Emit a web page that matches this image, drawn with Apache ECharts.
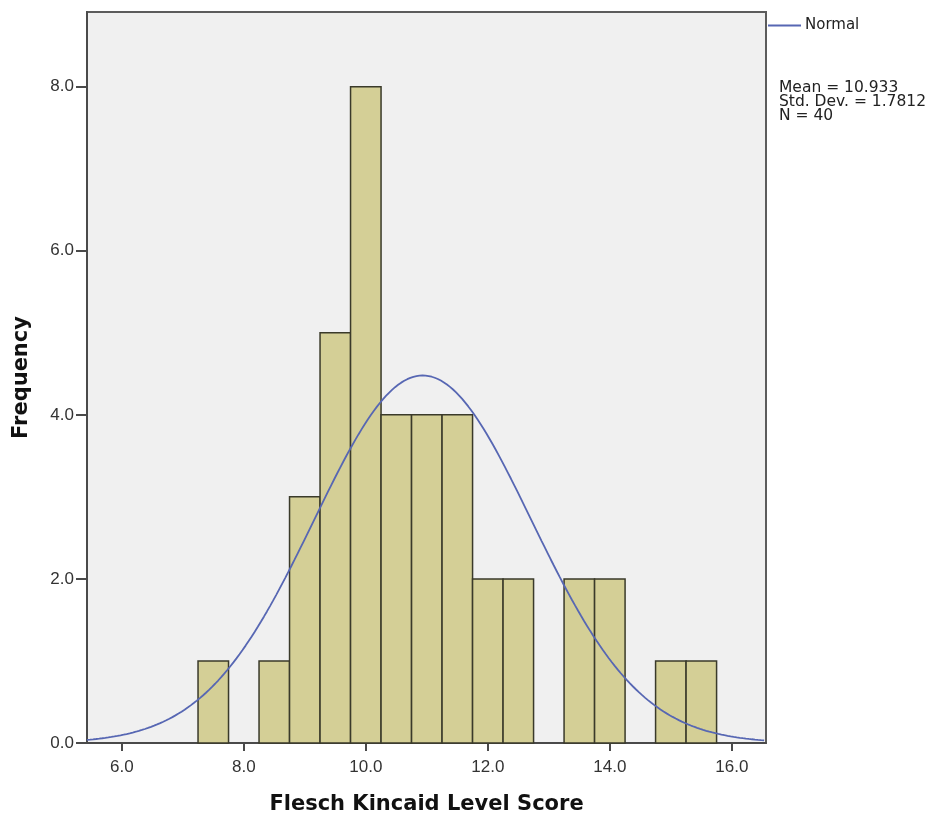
<!DOCTYPE html>
<html>
<head>
<meta charset="utf-8">
<script src="https://cdn.jsdelivr.net/npm/echarts@6/dist/echarts.min.js"></script>
<style>
  html, body { margin: 0; padding: 0; background: #ffffff; }
  #chart { width: 931px; height: 819px; }
</style>
</head>
<body>
<div id="chart"></div>
<script>
// Histogram bins: lower edge of each 0.5-wide bin and its count
const binWidth = 0.5;
const binStarts = [7.25, 8.25, 8.75, 9.25, 9.75, 10.25, 10.75, 11.25, 11.75, 12.25, 13.25, 13.75, 14.75, 15.25];
const binCounts = [1, 1, 3, 5, 8, 4, 4, 4, 2, 2, 2, 2, 1, 1];

// Summary statistics shown beside the plot
const statMean = 10.933;
const statSD = 1.7812;
const statN = 40;

// Axis ranges and tick settings
const xMin = 5.43, xMax = 16.56;
const yMin = 0, yMax = 8.91;
const xTicks = [6, 8, 10, 12, 14, 16];
const yTicks = [0, 2, 4, 6, 8];

// Normal curve scaled to counts (N * bin width * density) from the stated mean and SD
const curve = [];
for (let x = xMin; x <= xMax + 1e-9; x += 0.05) {
  const z = (x - statMean) / statSD;
  const y = statN * binWidth * Math.exp(-0.5 * z * z) / (statSD * Math.sqrt(2 * Math.PI));
  curve.push([x, y]);
}

const bars = binStarts.map((s, i) => [s, s + binWidth, binCounts[i]]);

const chart = echarts.init(document.getElementById('chart'));
const font = '"Liberation Sans", Arial, sans-serif';
const sideFont = '"DejaVu Sans", sans-serif';
const titleFont = '"DejaVu Sans", sans-serif';
const curveColor = '#5767b3';

chart.setOption({
  animation: false,
  backgroundColor: '#ffffff',
  grid: {
    left: 87, right: 165, top: 12, bottom: 76,
    outerBoundsMode: 'none',
    show: true, backgroundColor: '#f0f0f0', borderColor: '#5c5c5c', borderWidth: 2
  },
  legend: {
    data: ['Normal'],
    left: 768, top: 18, padding: 0,
    icon: 'rect', itemWidth: 33, itemHeight: 2, itemGap: 4,
    textStyle: { fontFamily: sideFont, fontSize: 15, color: '#222', padding: [0, 0, 0, -1] }
  },
  xAxis: {
    type: 'value', min: xMin, max: xMax,
    name: 'Flesch Kincaid Level Score', nameLocation: 'middle', nameGap: 51,
    nameTextStyle: { fontFamily: titleFont, fontSize: 21, fontWeight: 'bold', color: '#111' },
    axisLine: { show: true, onZero: false, lineStyle: { color: '#4a4a4a', width: 2 } },
    axisTick: { show: true, length: 8, lineStyle: { color: '#4a4a4a', width: 2 },
      customValues: xTicks },
    axisLabel: { fontFamily: font, fontSize: 17, color: '#333', margin: 16,
      customValues: xTicks, formatter: v => v.toFixed(1) },
    splitLine: { show: false }
  },
  yAxis: {
    type: 'value', min: yMin, max: yMax,
    name: 'Frequency', nameLocation: 'middle', nameGap: 55,
    nameTextStyle: { fontFamily: titleFont, fontSize: 21, fontWeight: 'bold', color: '#111' },
    axisLine: { show: true, lineStyle: { color: '#4a4a4a', width: 2 } },
    axisTick: { show: true, length: 11, lineStyle: { color: '#4a4a4a', width: 2 },
      customValues: yTicks },
    axisLabel: { fontFamily: font, fontSize: 17, color: '#333', margin: 13,
      customValues: yTicks, formatter: v => v.toFixed(1) },
    splitLine: { show: false }
  },
  graphic: [{
    type: 'text', left: 779, top: 80,
    style: {
      text: 'Mean = ' + statMean + '\nStd. Dev. = ' + statSD + '\nN = ' + statN,
      fontFamily: sideFont, fontSize: 15.5, lineHeight: 14, fill: '#222'
    }
  }],
  series: [{
    type: 'custom',
    name: 'Histogram',
    data: bars,
    renderItem: function (params, api) {
      const p0 = api.coord([api.value(0), api.value(2)]);
      const p1 = api.coord([api.value(1), 0]);
      return {
        type: 'rect',
        shape: { x: p0[0], y: p0[1], width: p1[0] - p0[0], height: p1[1] - p0[1] },
        style: { fill: '#d4cf96', stroke: '#3a3a2a', lineWidth: 1.5 }
      };
    },
    encode: { x: [0, 1], y: 2 },
    z: 2
  }, {
    type: 'line',
    name: 'Normal',
    data: curve,
    symbol: 'none',
    smooth: false,
    itemStyle: { color: curveColor },
    lineStyle: { color: curveColor, width: 1.8 },
    z: 3
  }]
});
</script>
</body>
</html>
